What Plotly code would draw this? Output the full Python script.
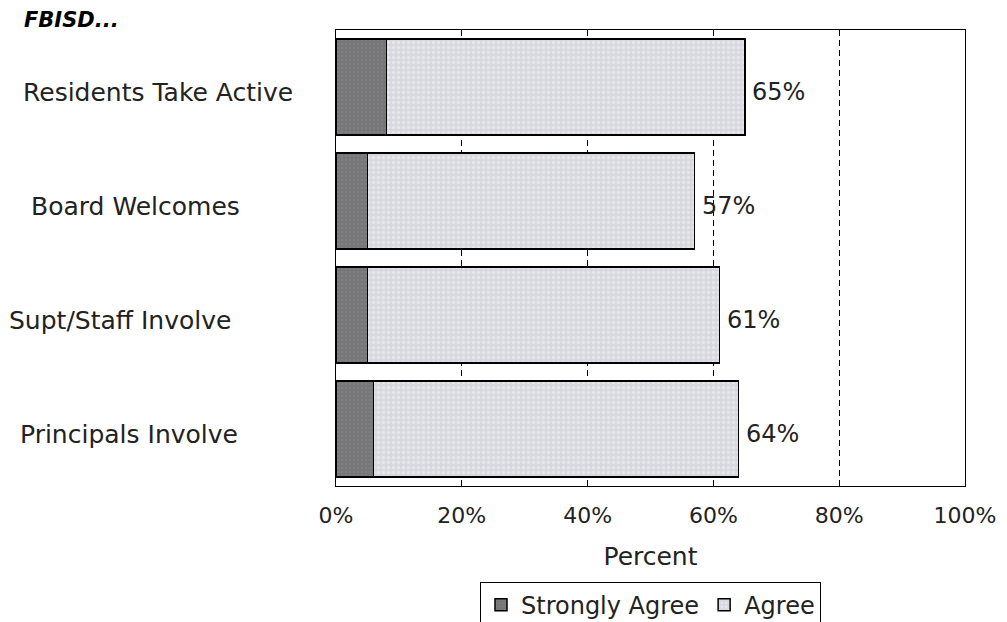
import plotly.graph_objects as go

categories = ["Residents Take Active", "Board Welcomes", "Supt/Staff Involve", "Principals Involve"]
strongly_agree = [8, 5, 5, 6]
agree = [57, 52, 56, 58]
totals = [65, 57, 61, 64]
tick_vals = [0, 20, 40, 60, 80, 100]
tick_text = ["0%", "20%", "40%", "60%", "80%", "100%"]
label_centers = [-0.283, -0.318, -0.343, -0.329]  # paper x of category label centers

FONT = "DejaVu Sans"

fig = go.Figure()
fig.add_trace(go.Bar(
    y=categories, x=strongly_agree, orientation="h", name="Strongly Agree",
    marker=dict(color="#7c7c80", line=dict(color="black", width=1.5),
                pattern=dict(shape=".", fgcolor="#8a8a8a", bgcolor="#767679", size=4, solidity=0.3)),
))
fig.add_trace(go.Bar(
    y=categories, x=agree, orientation="h", name="Agree",
    marker=dict(color="#dcdce4", line=dict(color="black", width=1.5),
                pattern=dict(shape=".", fgcolor="#f6f6ea", bgcolor="#d8d8e2", size=5, solidity=0.35)),
))

for cat, tot in zip(categories, totals):
    fig.add_annotation(x=tot, y=cat, xref="x", yref="y", text=f"{tot}%",
                       showarrow=False, xanchor="left", xshift=5, yshift=-5,
                       font=dict(family=FONT, size=24, color="#222"))

for cat, cx in zip(categories, label_centers):
    fig.add_annotation(x=cx, y=cat, xref="paper", yref="y", text=cat,
                       showarrow=False, xanchor="center", yshift=-5,
                       font=dict(family=FONT, size=25, color="#222"))

fig.add_annotation(x=-0.50, y=1.0, xref="paper", yref="paper", yanchor="bottom",
                   xanchor="left", yshift=-4, text="<b><i>FBISD...</i></b>", showarrow=False,
                   font=dict(family=FONT, size=21, color="black"))

fig.update_layout(
    width=1007, height=622,
    margin=dict(l=328, r=50, t=22, b=144, autoexpand=False),
    barmode="stack", bargap=0.16,
    plot_bgcolor="white", paper_bgcolor="white",
    font=dict(family=FONT, size=22, color="#222"),
    showlegend=True,
    legend=dict(orientation="h", x=0.5, xanchor="center", y=-0.21, yanchor="top",
                bordercolor="black", borderwidth=1, font=dict(family=FONT, size=24),
                traceorder="normal", itemwidth=30, tracegroupgap=0),
    xaxis=dict(range=[0, 100], tickvals=tick_vals, ticktext=tick_text,
               showgrid=True, gridcolor="black", griddash="6px,4px", gridwidth=1,
               showline=True, linecolor="black", linewidth=1, mirror=True,
               ticks="", ticklabelstandoff=10, zeroline=False, automargin=False,
               title=dict(text="Percent", font=dict(family=FONT, size=25), standoff=20)),
    yaxis=dict(autorange="reversed", showticklabels=False, showline=True, automargin=False,
               linecolor="black", linewidth=1, mirror=True, ticks="", showgrid=False),
)

fig.write_html("out.html")
